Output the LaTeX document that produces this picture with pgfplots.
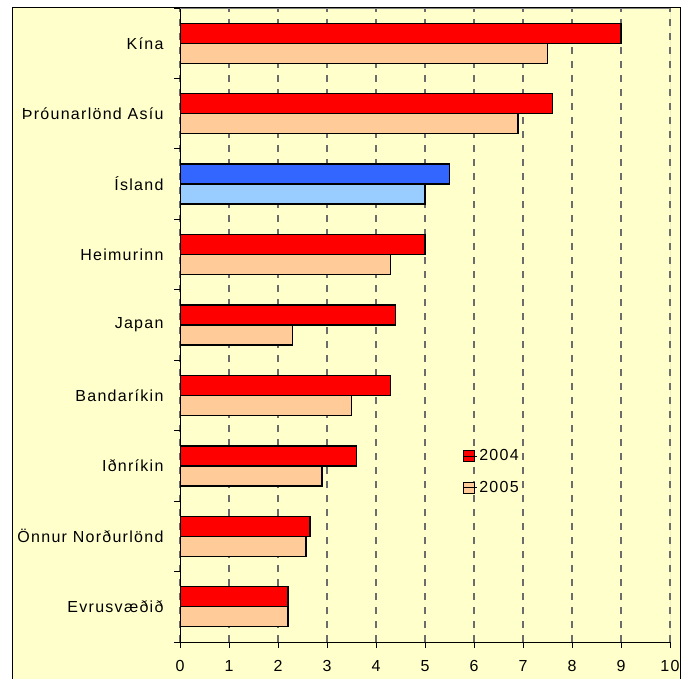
\documentclass[border=0pt]{standalone}
\usepackage{pgfplots}
\pgfplotsset{compat=1.18}
\usepackage{fontspec}
\setmainfont{Liberation Sans}[LetterSpace=8]
\definecolor{bg}{HTML}{FFFFCC}
\definecolor{rA}{HTML}{FF0000}
\definecolor{rB}{HTML}{FFCC99}
\definecolor{bA}{HTML}{3366FF}
\definecolor{bB}{HTML}{99CCFF}
\begin{document}
\begin{tikzpicture}[x=1pt,y=1pt]
\useasboundingbox (0,0) rectangle (687,678);
\begin{scope}
\clip (0,0) rectangle (687,678);
\draw[black, line width=1pt, fill=bg] (12,-10) rectangle (680,670);
\end{scope}
\begin{axis}[
  at={(180pt,36pt)}, anchor=south west,
  scale only axis, width=490pt, height=634pt,
  xmin=0, xmax=10, ymin=-0.5, ymax=8.5,
  xtick={0,1,...,10},
  ytick={-0.5,0.5,...,8.5}, yticklabels={},
  extra y ticks={0,1,2,3,4,5,6,7,8},
  extra y tick labels={Evrusvæðið,Önnur Norðurlönd,Iðnríkin,Bandaríkin,Japan,Heimurinn,Ísland,Þróunarlönd Asíu,Kína},
  extra y tick style={major tick length=0pt, ytick style={draw=none}},
  tick align=outside, major tick length=6pt,
  tick style={black, line width=0.8pt},
  xticklabel style={font=\fontsize{16}{18}\selectfont, yshift=-9pt},
  yticklabel style={font=\fontsize{16}{18}\selectfont, xshift=-13pt},
  /pgf/number format/assume math mode=true,
  axis x line*=bottom, axis y line*=left,
  axis line style={black, line width=0.8pt, -},
  xmajorgrids,
  major grid style={gray!85!black, line width=1.1pt, dash pattern=on 7pt off 7pt},
  legend style={at={(rel axis cs:0.57,0.31)}, anchor=north west, draw=none, fill=none,
    font=\fontsize{16}{18}\selectfont, row sep=15pt, cells={anchor=west}},
  legend image code/.code={\draw[#1, line width=1.2pt] (0pt,-5.5pt) rectangle (11pt,5.5pt); \path (0pt,0pt) -- (14pt,0pt);},
]
\draw[gray, line width=1pt] (rel axis cs:0,1) -- (rel axis cs:1,1) -- (rel axis cs:1,0);
\addplot[xbar, bar width=0.284, bar shift=0.142, fill=rA, draw=black, line width=1.4pt, forget plot]
  coordinates {(2.2,0) (2.65,1) (3.6,2) (4.3,3) (4.4,4) (5.0,5) (7.6,7) (9.0,8)};
\addplot[xbar, bar width=0.284, bar shift=-0.142, fill=rB, draw=black, line width=1.4pt, forget plot]
  coordinates {(2.2,0) (2.57,1) (2.9,2) (3.5,3) (2.3,4) (4.3,5) (6.9,7) (7.5,8)};
\addplot[xbar, bar width=0.284, bar shift=0.142, fill=bA, draw=black, line width=1.4pt, forget plot]
  coordinates {(5.5,6)};
\addplot[xbar, bar width=0.284, bar shift=-0.142, fill=bB, draw=black, line width=1.4pt, forget plot]
  coordinates {(5.0,6)};
\addlegendimage{fill=rA, draw=black}
\addlegendentry{2004}
\addlegendimage{fill=rB, draw=black}
\addlegendentry{2005}
\end{axis}
\end{tikzpicture}
\end{document}
